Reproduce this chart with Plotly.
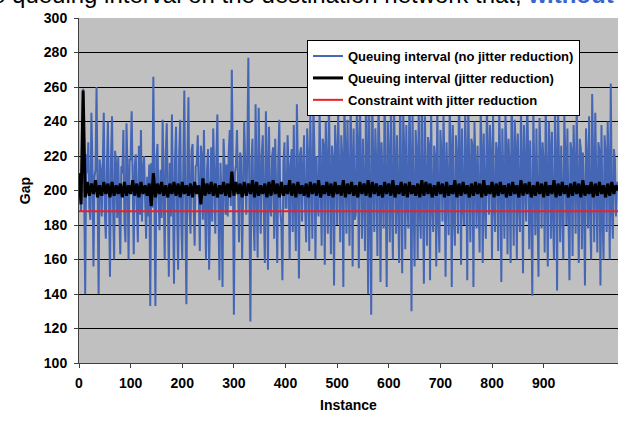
import plotly.graph_objects as go

# ---- data ----
instances_blue = list(range(0, 1045, 2))
gap_no_jitter_reduction = [
    195,210,188,214,259,196,140,221,210,228,190,183,245,215,156,208,
    212,260,193,140,218,212,185,222,245,187,172,214,240,196,150,219,
    243,190,160,223,215,184,220,188,163,214,210,235,181,170,239,211,
    160,218,218,246,192,163,214,221,192,170,226,186,235,182,212,220,
    196,172,208,185,215,133,216,190,266,212,133,219,227,196,177,212,
    184,241,190,160,222,239,198,150,216,185,244,188,146,218,237,188,
    154,221,241,183,160,214,258,191,134,218,254,189,175,223,227,192,
    168,214,215,232,186,165,226,220,183,235,193,160,212,224,154,187,
    225,182,236,210,175,218,244,190,148,216,196,144,230,214,186,215,
    185,222,235,191,270,213,128,210,215,235,186,170,222,219,160,192,
    240,215,186,223,277,195,124,217,230,184,165,250,212,161,248,196,
    175,221,232,188,158,246,214,154,237,192,185,220,225,172,230,198,
    158,219,241,188,180,148,217,228,190,190,232,213,160,215,224,176,
    238,194,165,250,214,149,221,225,182,212,232,189,170,236,218,165,
    244,208,172,250,223,160,220,192,185,247,215,168,230,226,157,240,
    213,175,255,186,163,226,218,145,238,221,180,248,190,170,232,219,
    144,250,224,175,241,192,168,252,219,156,236,183,186,245,226,155,
    258,214,172,230,188,165,262,221,140,248,193,128,255,218,176,236,
    213,162,252,224,147,228,190,178,260,216,144,240,221,170,249,193,
    160,256,219,175,232,187,158,262,214,152,245,223,166,238,192,178,
    258,218,130,246,196,156,235,222,160,250,189,172,264,215,146,243,
    211,168,231,226,148,248,193,176,226,218,156,254,186,164,235,221,
    182,244,214,150,228,192,174,250,224,144,238,188,168,232,217,175,
    258,221,157,236,190,180,245,219,148,252,195,170,230,226,144,240,
    212,178,226,188,164,247,223,158,233,192,172,252,217,186,238,221,
    160,244,193,176,228,222,165,250,214,147,236,189,172,244,226,163,
    230,213,158,260,190,168,241,224,160,233,196,176,248,218,152,238,
    211,182,255,223,166,229,192,139,246,219,174,236,188,150,242,222,
    178,228,214,164,252,190,156,240,225,172,234,187,160,248,219,142,
    246,214,170,226,192,160,244,221,180,236,188,148,228,223,162,238,
    212,175,250,189,158,230,224,166,222,196,145,236,218,178,243,187,
    160,256,219,170,245,191,164,228,223,145,238,186,160,232,221,176,
    240,214,160,262,190,172,224,218,185,205,200,
]

instances_black = list(range(0, 1045, 4))
gap_jitter_reduction = [
    210,192,258,196,205,197,204,198,206,196,203,197,205,198,204,196,
    205,197,203,198,204,196,205,197,203,198,206,197,204,196,205,198,
    203,197,204,191,210,196,204,198,205,197,203,196,204,198,205,197,
    204,196,205,198,203,197,204,196,205,198,203,192,207,197,204,198,
    205,197,204,196,203,198,205,197,204,196,211,197,205,198,204,196,
    205,197,204,198,206,196,205,197,203,198,204,196,205,197,206,198,
    204,196,205,197,203,198,206,197,204,196,205,198,203,197,204,196,
    205,198,204,197,206,196,203,198,205,197,204,196,205,198,203,197,
    206,196,204,198,205,197,203,196,205,198,204,197,206,196,205,198,
    204,197,203,196,205,198,204,197,206,196,203,198,205,197,204,196,
    205,198,203,197,204,196,206,197,205,198,204,196,203,197,205,198,
    204,196,205,197,203,198,206,196,204,197,205,198,203,196,204,197,
    205,198,204,196,206,197,203,198,205,196,204,197,205,198,203,196,
    204,197,205,198,203,196,206,197,204,198,205,196,203,197,205,198,
    204,196,205,197,203,198,206,196,204,197,205,198,203,196,204,197,
    205,198,204,196,206,197,203,198,205,196,204,197,205,198,203,196,
    204,197,205,198,203,200,
]

instances_red = [0, 1044]
constraint_values = [188, 188]

series_names = [
    "Queuing interval (no jitter reduction)",
    "Queuing interval (jitter reduction)",
    "Constraint with jitter reduction",
]
y_ticks = [100, 120, 140, 160, 180, 200, 220, 240, 260, 280, 300]
x_ticks = [0, 100, 200, 300, 400, 500, 600, 700, 800, 900]

FONT = "Arial, Liberation Sans, sans-serif"

fig = go.Figure()
fig.add_trace(go.Scatter(x=instances_blue, y=gap_no_jitter_reduction, mode="lines",
                         name=series_names[0], legendgroup="a",
                         line=dict(color="#4566B4", width=2)))
fig.add_trace(go.Scatter(x=instances_black, y=gap_jitter_reduction, mode="lines",
                         name=series_names[1], legendgroup="b",
                         line=dict(color="#000000", width=3)))
fig.add_trace(go.Scatter(x=instances_red, y=constraint_values, mode="lines",
                         name=series_names[2], legendgroup="c",
                         line=dict(color="#E8202A", width=2)))

fig.update_layout(
    width=618, height=421,
    margin=dict(l=79, r=0, t=18, b=58, autoexpand=False),
    paper_bgcolor="white",
    plot_bgcolor="#C0C0C0",
    font=dict(family=FONT, color="black"),
    showlegend=True,
    legend=dict(
        x=0.423, y=0.936, xanchor="left", yanchor="top",
        bgcolor="white", bordercolor="black", borderwidth=1,
        font=dict(family=FONT, size=13, color="black", weight="bold"),
        itemwidth=30, traceorder="grouped", tracegroupgap=2,
    ),
    xaxis=dict(
        range=[0, 1044], tickvals=x_ticks, showgrid=False, zeroline=False,
        showline=True, linecolor="#404040", linewidth=1, automargin=False,
        ticks="outside", ticklen=4, tickcolor="#404040", ticklabelstandoff=3,
        tickfont=dict(family=FONT, size=14, weight="bold"),
        title=dict(text="<b>Instance</b>", font=dict(family=FONT, size=14), standoff=10),
    ),
    yaxis=dict(
        range=[100, 300], tickvals=y_ticks, showgrid=True, gridcolor="#000000", gridwidth=1,
        zeroline=False, showline=True, linecolor="#404040", linewidth=1, automargin=False,
        ticks="outside", ticklen=4, tickcolor="#404040", ticklabelstandoff=4,
        tickfont=dict(family=FONT, size=14, weight="bold"),
        title=dict(text="<b>Gap</b>", font=dict(family=FONT, size=14), standoff=9),
    ),
    annotations=[dict(
        text="the queuing interval on the destination network that, "
             "<span style='color:#3A66CC'><b>without</b></span>",
        xref="paper", yref="paper", x=-0.2022, y=1.0681,
        xanchor="left", yanchor="middle", showarrow=False,
        font=dict(family=FONT, size=24, color="black"),
    )],
)

fig.write_html("out.html", config={"displayModeBar": False},
               post_script="document.body.style.margin='0';")
